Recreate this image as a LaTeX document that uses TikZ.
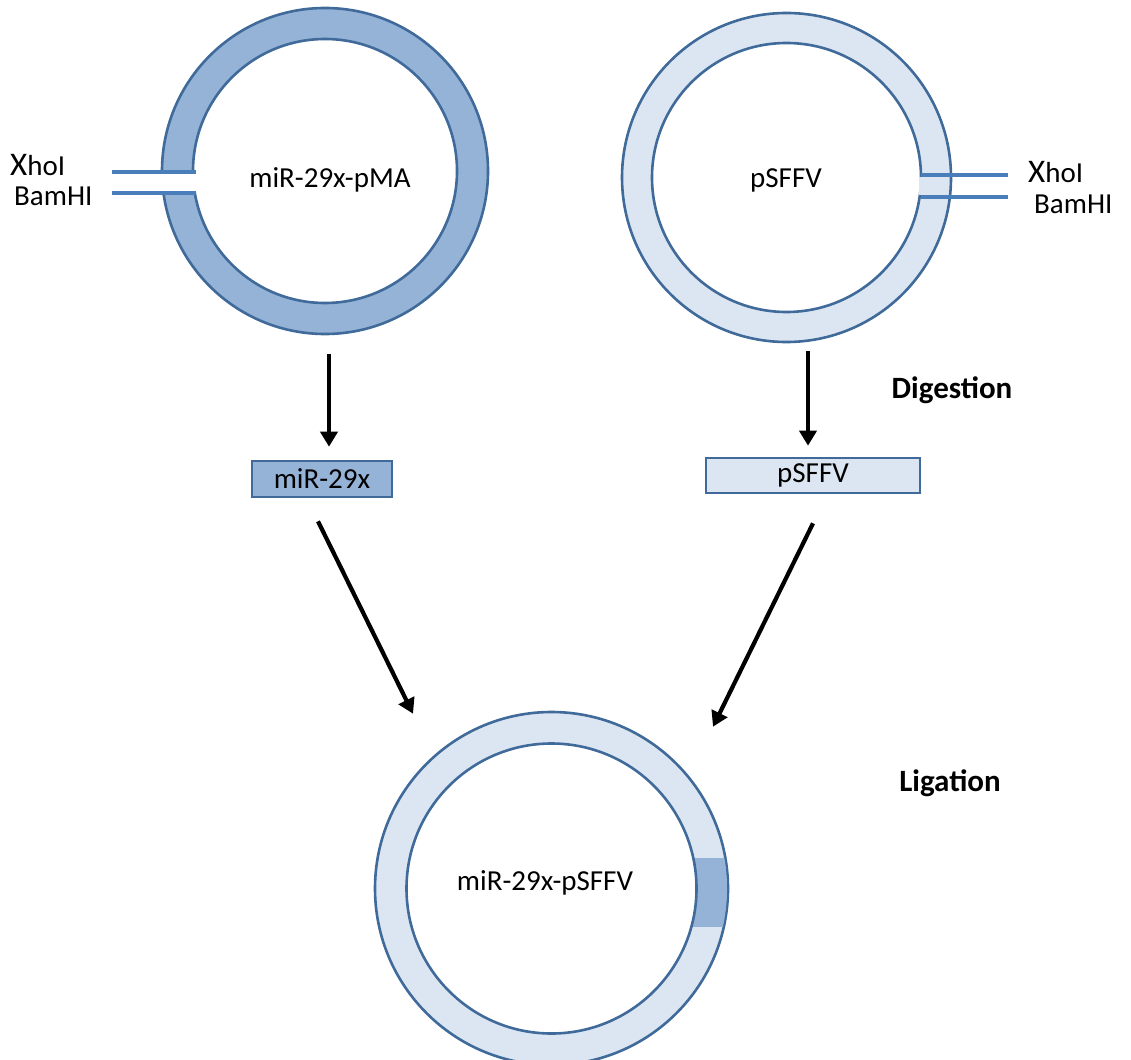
\documentclass[tikz,border=0pt]{standalone}
\usepackage{fontspec}
\setmainfont{Carlito}
\usetikzlibrary{arrows.meta}
\definecolor{darkfill}{HTML}{95B3D7}
\definecolor{lightfill}{HTML}{DCE6F2}
\definecolor{outl}{HTML}{3F6A9A}
\definecolor{cutc}{HTML}{4A7EBB}
\tikzset{
  ringo/.style={circle, inner sep=0pt, draw=outl, line width=2.6pt},
  ringi/.style={circle, inner sep=0pt, draw=outl, line width=2.6pt, fill=white, font=\fontsize{29}{32}\selectfont},
  frag/.style={rectangle, inner sep=0pt, draw=outl, line width=2.6pt, font=\fontsize{29}{32}\selectfont},
  arr/.style={line width=4.2pt, -{Triangle[length=15pt,width=17pt]}},
  cutline/.style={draw=cutc, line width=4pt},
  lbl/.style={inner sep=0pt, font=\fontsize{29}{32}\selectfont},
  steplbl/.style={inner sep=0pt, font=\fontsize{31}{34}\selectfont\bfseries}
}
\begin{document}
\begin{tikzpicture}[x=1pt,y=-1pt]
\useasboundingbox (0,0) rectangle (1131,1059);
% left plasmid
\node[ringo, fill=darkfill, minimum size=326] (p1) at (325,171) {};
\node[ringi, minimum size=264] (p1in) at (325,171) {};
\node[lbl] (p1lbl) at (330,180) {miR-29x-pMA};
\fill[white] (110,174) rectangle (197,191);
\draw[cutline] (112,172) -- (196,172);
\draw[cutline] (112,193) -- (196,193);
\node[lbl, anchor=west] (x1) at (10,165) {\fontsize{33}{33}\selectfont X\fontsize{29}{32}\selectfont hoI};
\node[lbl, anchor=west] (b1) at (14,196) {BamHI};
% right plasmid
\node[ringo, fill=lightfill, minimum size=329] (p2) at (786.5,177.5) {};
\node[ringi, minimum size=269] (p2in) at (786.5,177.5) {};
\node[lbl] (p2lbl) at (786,180) {pSFFV};
\fill[lightfill] (918.5,177) rectangle (925,195);
\draw[cutline] (921,175) -- (1008,175);
\draw[cutline] (921,197) -- (1008,197);
\node[lbl, anchor=west] (x2) at (1028,172) {\fontsize{33}{33}\selectfont X\fontsize{29}{32}\selectfont hoI};
\node[lbl, anchor=west] (b2) at (1034,204) {BamHI};
% fragments
\node[frag, fill=darkfill, minimum width=140, minimum height=36] (r1) at (322,479) {miR-29x};
\node[frag, fill=lightfill, minimum width=214, minimum height=35] (r2) at (813,475.5) {pSFFV};
% step labels
\node[steplbl] (dig) at (952,390) {Digestion};
\node[steplbl] (lig) at (950,783) {Ligation};
% bottom plasmid
\node[ringo, fill=lightfill, minimum size=353] (p3) at (551.5,888.5) {};
\begin{scope}
  \clip (p3.center) circle[radius=175.5pt];
  \fill[darkfill] (690,858) rectangle (745,927);
\end{scope}
\node[ringi, minimum size=290] (p3in) at (551.5,888.5) {};
\node[lbl] (p3lbl) at (545,883) {miR-29x-pSFFV};
% arrows
\draw[arr] ([shift={(4,19)}]p1.south) -- ([shift={(7,-13)}]r1.north);
\draw[arr] ([shift={(21.5,8)}]p2.south) -- ([shift={(-5,-11)}]r2.north);
\draw[arr] ([shift={(-4,23)}]r1.south) -- ([shift={(-138.5,3)}]p3.north);
\draw[arr] ([shift={(0,29)}]r2.south) -- ([shift={(161.5,16)}]p3.north);
\end{tikzpicture}
\end{document}
